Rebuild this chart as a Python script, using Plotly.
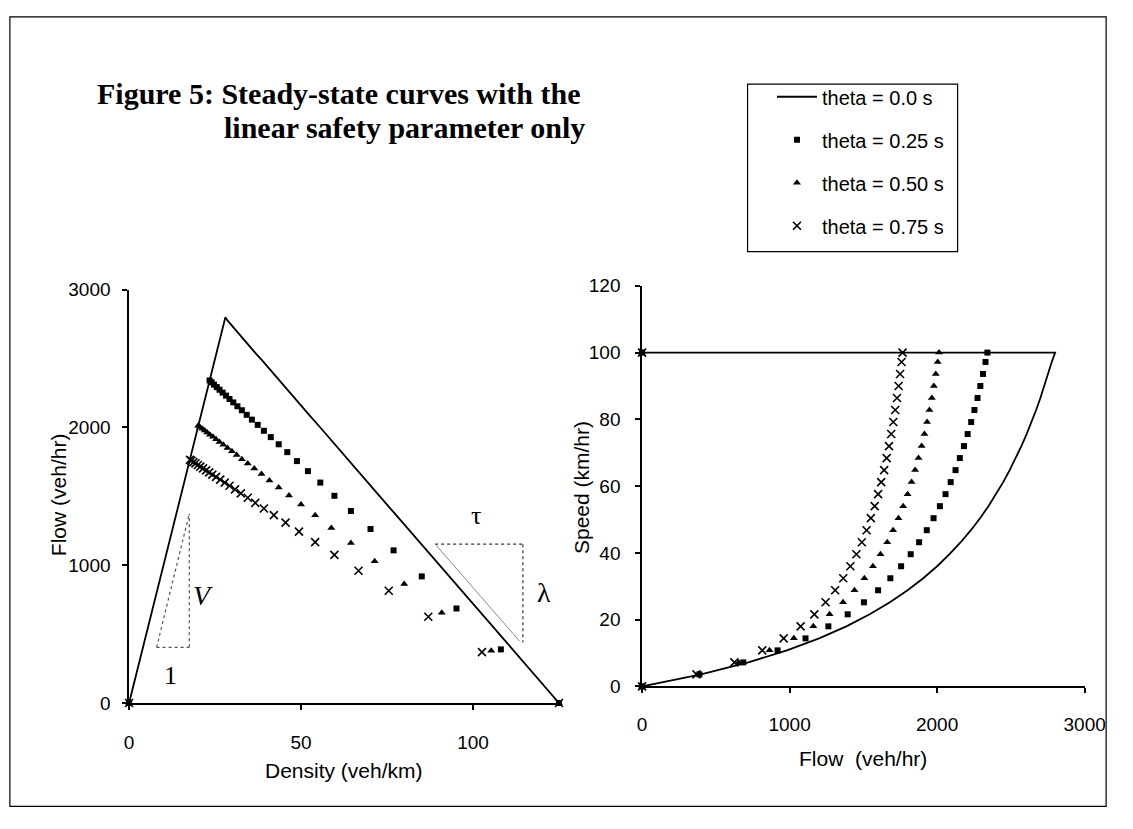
import plotly.graph_objects as go

# ---------------------------------------------------------------------------
# Steady-state points for each safety parameter theta.
# Each series: free-flow start (k = 0), then speeds 100 km/h, 27 ... 0 m/s.
# ---------------------------------------------------------------------------
speed_kmh = [100, 100, 97.2, 93.6, 90.0, 86.4, 82.8, 79.2, 75.6, 72.0, 68.4,
             64.8, 61.2, 57.6, 54.0, 50.4, 46.8, 43.2, 39.6, 36.0, 32.4, 28.8,
             25.2, 21.6, 18.0, 14.4, 10.8, 7.2, 3.6, 0]

# theta = 0.0 s
density_t000 = [0, 28.0, 28.6, 29.4, 30.3, 31.3, 32.3, 33.3, 34.5, 35.7, 37.0,
                38.5, 40.0, 41.7, 43.5, 45.5, 47.6, 50.0, 52.6, 55.6, 58.8,
                62.5, 66.7, 71.4, 76.9, 83.3, 90.9, 100.0, 111.1, 125]
flow_t000 = [0, 2800, 2777, 2753, 2727, 2700, 2671, 2640, 2607, 2571, 2533,
             2492, 2448, 2400, 2348, 2291, 2229, 2160, 2084, 2000, 1906,
             1800, 1680, 1543, 1385, 1200, 982, 720, 400, 0]

# theta = 0.25 s
density_t025 = [0, 23.4, 24.0, 24.7, 25.5, 26.3, 27.2, 28.2, 29.2, 30.3, 31.5,
                32.8, 34.2, 35.7, 37.4, 39.2, 41.2, 43.5, 46.0, 48.8, 52.0,
                55.6, 59.7, 64.5, 70.2, 76.9, 85.1, 95.2, 108.1, 125]
flow_t025 = [0, 2341, 2328, 2311, 2293, 2274, 2253, 2231, 2207, 2182, 2154,
             2125, 2092, 2057, 2019, 1976, 1930, 1878, 1821, 1756, 1683,
             1600, 1504, 1394, 1263, 1108, 919, 686, 389, 0]

# theta = 0.50 s
density_t050 = [0, 20.1, 20.6, 21.3, 22.0, 22.7, 23.5, 24.4, 25.3, 26.3, 27.4,
                28.6, 29.9, 31.3, 32.8, 34.5, 36.4, 38.5, 40.8, 43.5, 46.5,
                50.0, 54.1, 58.8, 64.5, 71.4, 80.0, 90.9, 105.3, 125]
flow_t050 = [0, 2013, 2004, 1991, 1978, 1964, 1948, 1932, 1914, 1895, 1874,
             1851, 1827, 1800, 1770, 1738, 1702, 1662, 1616, 1565, 1507,
             1440, 1362, 1271, 1161, 1029, 864, 655, 379, 0]

# theta = 0.75 s
density_t075 = [0, 17.7, 18.1, 18.7, 19.3, 20.0, 20.7, 21.5, 22.4, 23.3, 24.2,
                25.3, 26.5, 27.8, 29.2, 30.8, 32.5, 34.5, 36.7, 39.2, 42.1,
                45.5, 49.4, 54.1, 59.7, 66.7, 75.5, 87.0, 102.6, 125]
flow_t075 = [0, 1766, 1759, 1749, 1739, 1728, 1716, 1703, 1689, 1674, 1658,
             1641, 1621, 1600, 1577, 1551, 1522, 1490, 1453, 1412, 1364,
             1309, 1244, 1168, 1075, 960, 815, 626, 369, 0]

series_names = ["theta = 0.0 s", "theta = 0.25 s", "theta = 0.50 s", "theta = 0.75 s"]

density_ticks = [0, 50, 100]
flow_ticks_left = [0, 1000, 2000, 3000]
flow_ticks_right = [0, 1000, 2000, 3000]
speed_ticks = [0, 20, 40, 60, 80, 100, 120]

# ---------------------------------------------------------------------------
W, H = 1133, 829


def px_x(p):
    return p / W


def px_y(p):
    return 1 - p / H


SANS = "Liberation Sans, Arial, sans-serif"
SERIF = "Liberation Serif, Times New Roman, serif"
TICK_FONT = dict(family=SANS, size=19, color="black")
TITLE_FONT = dict(family=SANS, size=21, color="black")

fig = go.Figure()

styles = [
    None,
    dict(symbol="square", size=6, color="black"),
    dict(symbol="triangle-up", size=7, color="black"),
    dict(symbol="x-thin", size=8, color="black", line=dict(color="black", width=1.6)),
]
dens = [density_t000, density_t025, density_t050, density_t075]
flows = [flow_t000, flow_t025, flow_t050, flow_t075]

for i in range(4):
    for axes, xs, ys, show in (("l", dens[i], flows[i], True),
                               ("r", flows[i], speed_kmh, False)):
        kw = dict(x=xs, y=ys, name=series_names[i], showlegend=show,
                  legendgroup=series_names[i], cliponaxis=False, hoverinfo="skip")
        if axes == "r":
            kw.update(xaxis="x2", yaxis="y2")
        if styles[i] is None:
            fig.add_trace(go.Scatter(mode="lines", line=dict(color="black", width=1.8), **kw))
        else:
            fig.add_trace(go.Scatter(mode="markers", marker=styles[i], **kw))

axis_common = dict(showline=True, linecolor="black", linewidth=1.5, ticks="outside",
                   ticklen=5, tickwidth=1.5, tickcolor="black", showgrid=False,
                   zeroline=False, tickfont=TICK_FONT)

fig.update_layout(
    width=W, height=H,
    margin=dict(l=0, r=0, t=0, b=0),
    paper_bgcolor="white", plot_bgcolor="white",
    xaxis=dict(domain=[px_x(127), px_x(567)], range=[0, 125], tickvals=density_ticks,
               anchor="y", ticklabelstandoff=16, **axis_common),
    yaxis=dict(domain=[px_y(711), px_y(287)], range=[0, 3000], tickvals=flow_ticks_left,
               anchor="x", ticklabelstandoff=8, **axis_common),
    xaxis2=dict(domain=[px_x(652), px_x(1105)], range=[0, 3000], tickvals=flow_ticks_right,
                anchor="y2", ticklabelstandoff=15, **axis_common),
    yaxis2=dict(domain=[px_y(694), px_y(283)], range=[0, 120], tickvals=speed_ticks,
                anchor="x2", ticklabelstandoff=11, **axis_common),
    legend=dict(x=px_x(785), y=px_y(69), xanchor="left", yanchor="top",
                bgcolor="rgba(0,0,0,0)", borderwidth=0,
                font=dict(family=SANS, size=20, color="black"),
                tracegroupgap=14, itemwidth=40),
    showlegend=True,
)

annotations = [
    # figure heading
    dict(text="<b>Figure 5: Steady-state curves with the</b>", x=px_x(92), y=px_y(86),
         xanchor="left", yanchor="middle", font=dict(family=SERIF, size=30, color="black")),
    dict(text="<b>linear safety parameter only</b>", x=px_x(222), y=px_y(121),
         xanchor="left", yanchor="middle", font=dict(family=SERIF, size=30, color="black")),
    # axis titles
    dict(text="Flow (veh/hr)", x=px_x(55), y=px_y(497), textangle=-90,
         xanchor="center", yanchor="middle", font=TITLE_FONT),
    dict(text="Density (veh/km)", x=px_x(347), y=px_y(780),
         xanchor="center", yanchor="middle", font=TITLE_FONT),
    dict(text="Speed (km/hr)", x=px_x(590), y=px_y(490), textangle=-90,
         xanchor="center", yanchor="middle", font=TITLE_FONT),
    dict(text="Flow  (veh/hr)", x=px_x(878), y=px_y(768),
         xanchor="center", yanchor="middle", font=TITLE_FONT),
    # slope labels
    dict(text="<i>V</i>", x=21.5, y=780, xref="x", yref="y",
         font=dict(family=SERIF, size=28, color="black")),
    dict(text="1", x=12.0, y=200, xref="x", yref="y",
         font=dict(family=SERIF, size=26, color="black")),
    dict(text="τ", x=101.0, y=1360, xref="x", yref="y",
         font=dict(family=SERIF, size=26, color="black")),
    dict(text="λ", x=120.5, y=800, xref="x", yref="y",
         font=dict(family=SERIF, size=28, color="black")),
]
for a in annotations:
    a.setdefault("xref", "paper")
    a.setdefault("yref", "paper")
    a.setdefault("showarrow", False)
fig.update_layout(annotations=annotations)

dot = dict(color="#555555", width=1.2, dash="dot")
shapes = [
    # outer frame
    dict(type="rect", xref="paper", yref="paper", x0=px_x(5), x1=px_x(1127),
         y0=px_y(817), y1=px_y(7), line=dict(color="black", width=1.2)),
    # legend frame
    dict(type="rect", xref="paper", yref="paper", x0=px_x(760), x1=px_x(975),
         y0=px_y(248), y1=px_y(76), line=dict(color="black", width=1.2)),
    # slope triangle for V
    dict(type="line", xref="x", yref="y", x0=8.0, y0=404, x1=17.5, y1=404, line=dot),
    dict(type="line", xref="x", yref="y", x0=17.5, y0=404, x1=17.5, y1=1373, line=dot),
    dict(type="line", xref="x", yref="y", x0=8.0, y0=404, x1=17.5, y1=1373, line=dot),
    # slope triangle for tau / lambda
    dict(type="line", xref="x", yref="y", x0=89.0, y0=1153, x1=114.5, y1=1153,
         line=dict(color="#333333", width=1.2, dash="dot")),
    dict(type="line", xref="x", yref="y", x0=114.5, y0=1153, x1=114.5, y1=440,
         line=dict(color="#333333", width=1.2, dash="dot")),
    dict(type="line", xref="x", yref="y", x0=89.0, y0=1153, x1=113.5, y1=450,
         line=dict(color="#888888", width=1.0)),
]
fig.update_layout(shapes=shapes)

fig.write_html("out.html")
